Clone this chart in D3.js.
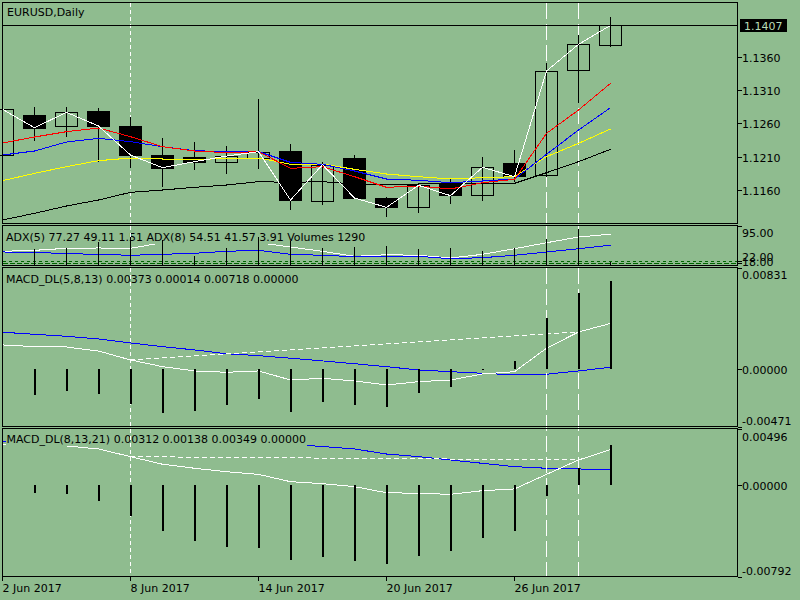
<!DOCTYPE html>
<head>
<meta charset="utf-8">
<style>
    body { margin: 0; background-color: #8fbc8f; }
    svg { display: block; font-family: "DejaVu Sans", sans-serif; font-size: 11px; }
</style>
</head>
<body>
<script src="https://d3js.org/d3.v7.min.js"></script>
<script type="text/javascript">

    // ---- data ----
    const dates = ["2017-06-02", "2017-06-05", "2017-06-06", "2017-06-07", "2017-06-08",
        "2017-06-09", "2017-06-12", "2017-06-13", "2017-06-14", "2017-06-15",
        "2017-06-16", "2017-06-19", "2017-06-20", "2017-06-21", "2017-06-22",
        "2017-06-23", "2017-06-26", "2017-06-27", "2017-06-28", "2017-06-29"];

    const open_px  = [1.12125, 1.12725, 1.1255, 1.12785, 1.1256, 1.12125, 1.1210, 1.12025, 1.1209, 1.12185,
        1.11435, 1.1208, 1.11475, 1.1134, 1.1170, 1.11515, 1.1200, 1.1182, 1.13395, 1.1377];
    const high_px  = [1.1284, 1.12845, 1.12845, 1.12835, 1.1270, 1.12385, 1.1232, 1.1226, 1.12965, 1.1229,
        1.12015, 1.12125, 1.1150, 1.1169, 1.11775, 1.1210, 1.1220, 1.1351, 1.13925, 1.1420];
    const low_px   = [1.1208, 1.1234, 1.1240, 1.12025, 1.11935, 1.1165, 1.1190, 1.1184, 1.11915, 1.1130,
        1.1138, 1.11465, 1.1119, 1.1126, 1.11385, 1.1144, 1.11725, 1.1179, 1.1291, 1.1375];
    const close_px = [1.1281, 1.12535, 1.12765, 1.1256, 1.12125, 1.11935, 1.12025, 1.1211, 1.12175, 1.1145,
        1.1198, 1.1148, 1.1134, 1.1167, 1.11515, 1.1194, 1.1180, 1.13385, 1.13785, 1.1407];

    const ma_red    = [1.12305, 1.12395, 1.12475, 1.1253, 1.1240, 1.1225, 1.12185, 1.1216, 1.12175, 1.11925,
        1.1195, 1.1180, 1.1164, 1.1166, 1.11615, 1.1171, 1.1176, 1.1245, 1.1280, 1.1320];
    const ma_blue   = [1.12125, 1.12185, 1.1232, 1.12375, 1.12325, 1.1225, 1.1219, 1.12175, 1.12175, 1.12015,
        1.11985, 1.11885, 1.11765, 1.11745, 1.1171, 1.11735, 1.11765, 1.12135, 1.1250, 1.12835];
    const ma_yellow = [1.1174, 1.1185, 1.1195, 1.1204, 1.1208, 1.12065, 1.1206, 1.1207, 1.1208, 1.11985,
        1.1199, 1.1191, 1.1184, 1.1180, 1.11765, 1.11785, 1.1180, 1.1210, 1.1230, 1.12515];
    const ma_black  = [1.1115, 1.1125, 1.1136, 1.1145, 1.11565, 1.1160, 1.1164, 1.11675, 1.11725, 1.11715,
        1.11725, 1.1169, 1.11675, 1.1169, 1.1170, 1.1170, 1.1170, 1.1186, 1.12025, 1.1221];

    const adx5 = [42.1, 44.1, 48.2, 48.9, 48.2, 59.7, 61.2, 62.2, 59.7, 50.9,
        42.1, 31.8, 35.1, 33.9, 28.4, 35.9, 47.4, 59.7, 71.4, 77.27];
    const adx8 = [40.7, 40.0, 37.2, 35.9, 33.9, 35.9, 38.0, 42.1, 44.1, 35.9,
        33.9, 31.0, 31.0, 31.8, 26.9, 29.0, 33.9, 40.7, 47.4, 54.51];
    const volumes = [7000, 6070, 6340, 8610, 10510, 9640, 3570, 6340, 10510, 8990,
        6340, 6720, 7100, 6070, 6340, 5200, 6340, 9870, 13660, 1290];
    const adx_levels = [22, 18];

    const macd1_main   = [0.00197, 0.00183, 0.00180, 0.00147, 0.00074, 0.00019, -0.00016, -0.00027, -0.00016, -0.00090,
        -0.00076, -0.00098, -0.00131, -0.00104, -0.00090, -0.00041, -0.00022, 0.00170, 0.00303, 0.00373];
    const macd1_signal = [0.00301, 0.00284, 0.00268, 0.00246, 0.00213, 0.00183, 0.00156, 0.00125, 0.00109, 0.00088,
        0.00066, 0.00043, 0.00019, -0.00008, -0.00022, -0.00035, -0.00049, -0.00043, -0.00016, 0.00014];
    const macd1_hist   = [-0.00208, -0.00216, -0.00183, -0.00204, -0.00286, -0.00359, -0.00346, -0.00297, -0.00242, -0.00351,
        -0.00269, -0.00297, -0.00313, -0.00196, -0.00150, -0.00005, 0.00062, 0.00421, 0.00625, 0.00718];

    const macd2_main   = [0.00361, 0.00352, 0.00344, 0.00318, 0.00251, 0.00185, 0.00150, 0.00120, 0.00097, 0.00033,
        0.00016, -0.00010, -0.00063, -0.00068, -0.00077, -0.00045, -0.00030, 0.00097, 0.00222, 0.00312];
    const macd2_signal = [0.00381, 0.00382, 0.00384, 0.00386, 0.00387, 0.00389, 0.00390, 0.00386, 0.00372, 0.00358,
        0.00339, 0.00318, 0.00274, 0.00251, 0.00222, 0.00193, 0.00164, 0.00150, 0.00144, 0.00138];
    const macd2_hist   = [-0.00040, -0.00064, -0.00070, -0.00131, -0.00267, -0.00398, -0.00485, -0.00537, -0.00548, -0.00650,
        -0.00624, -0.00659, -0.00681, -0.00615, -0.00572, -0.00461, -0.00392, -0.00093, 0.00154, 0.00349];

    // tick labels and markers
    const price_ticks = [1.1160, 1.1210, 1.1260, 1.1310, 1.1360];
    const bid_price = 1.1407;
    const adx_ticks = [95];
    const macd1_ticks = [0.00831, 0, -0.00471];
    const macd2_ticks = [0.00496, 0, -0.00792];
    const date_tick_bars = [0, 4, 8, 12, 16];
    const trend_bars = [4, 18];
    const dotted_vline_bars = [4];
    const dashed_vline_bars = [17, 18];

    const title_text = "EURUSD,Daily";
    const adx_text = "ADX(5) 77.27 49.11 1.51 ADX(8) 54.51 41.57 3.91 Volumes 1290";
    const macd1_text = "MACD_DL(5,8,13) 0.00373 0.00014 0.00718 0.00000";
    const macd2_text = "MACD_DL(8,13,21) 0.00312 0.00138 0.00349 0.00000";

    // ---- layout ----
    let svg_w = 800;
    let svg_h = 600;
    let bg = "#8fbc8f";
    let left_x = 2.5;
    let right_x = 737.5;
    let main_p  = {top: 2.5,   bottom: 223.5};
    let adx_p   = {top: 225.5, bottom: 265.5};
    let macd1_p = {top: 267.5, bottom: 426.5};
    let macd2_p = {top: 428.5, bottom: 576.5};

    let svg = d3.select("body").append("svg")
        .attr("width", svg_w)
        .attr("height", svg_h)
        .attr("shape-rendering", "crispEdges")
        .style("background-color", bg);

    // histograms stay inside the window frame
    svg.append("clipPath").attr("id", "inner")
        .append("rect")
        .attr("x", left_x + 1.5).attr("y", 0)
        .attr("width", right_x - left_x - 1.5).attr("height", svg_h);

    // ---- scales ----
    let x_scale = d3.scalePoint().domain(dates).range([2, 610]);
    let bx = i => x_scale(dates[i]) + 0.5;

    let y_main  = d3.scaleLinear().domain([1.11105, 1.14413]).range([223, 2.5]);
    let y_adx   = d3.scaleLinear().domain([14, 95]).range([265, 225.5]);
    let y_vol   = d3.scaleLinear().domain([0, 15000]).range([265, 225.5]);
    let y_macd1 = d3.scaleLinear().domain([-0.00471, 0.00831]).range([426.5, 267.5]);
    let y_macd2 = d3.scaleLinear().domain([-0.00792, 0.00496]).range([576.5, 428.5]);

    // ---- helpers ----
    function draw_series(values, y_scale, color, dash) {
        svg.append("path")
            .datum(values)
            .attr("fill", "none")
            .attr("stroke", color)
            .attr("stroke-width", 1)
            .attr("stroke-dasharray", dash || null)
            .attr("d", d3.line()
                .x((d, i) => bx(i))
                .y(d => y_scale(d)));
    }

    function draw_trend(values, y_scale) {
        let pts = trend_bars.map(i => [bx(i), y_scale(values[i])]);
        svg.append("path")
            .attr("fill", "none")
            .attr("stroke", "#ffffff")
            .attr("stroke-dasharray", "5,3")
            .attr("d", d3.line()(pts));
    }

    function draw_hist(values, y_scale, base, width) {
        svg.append("g")
            .attr("clip-path", "url(#inner)")
            .selectAll("line")
            .data(values)
            .enter()
            .append("line")
            .attr("x1", (d, i) => bx(i))
            .attr("x2", (d, i) => bx(i))
            .attr("y1", y_scale(base))
            .attr("y2", d => y_scale(d))
            .attr("stroke", "#000")
            .attr("stroke-width", width);
    }

    function draw_panel_label(txt, x, baseline) {
        let g = svg.append("g");
        let rect = g.append("rect").attr("fill", bg);
        let t = g.append("text").attr("x", x).attr("y", baseline).attr("fill", "#000").text(txt);
        let bb = t.node().getBBox();
        rect.attr("x", bb.x - 1).attr("y", baseline - 10).attr("width", bb.width + 2).attr("height", 12.5);
    }

    function draw_vlines(bars, dash, y1, y2) {
        svg.selectAll(null)
            .data(bars)
            .enter()
            .append("line")
            .attr("x1", i => bx(i))
            .attr("x2", i => bx(i))
            .attr("y1", y1)
            .attr("y2", y2)
            .attr("stroke", "#ffffff")
            .attr("stroke-dasharray", dash);
    }

    function draw_right_ticks(ticks, y_scale, fmt, offsets) {
        ticks.forEach((v, k) => {
            let y = Math.round(y_scale(v)) + 0.5;
            svg.append("line")
                .attr("x1", right_x).attr("x2", right_x + 4)
                .attr("y1", y).attr("y2", y)
                .attr("stroke", "#000");
            svg.append("text")
                .attr("x", 742)
                .attr("y", y + offsets[k])
                .attr("fill", "#000")
                .text(fmt(v));
        });
    }

    // ---- main panel ----
    draw_vlines(dotted_vline_bars, "4,3", main_p.top, main_p.bottom);
    draw_vlines(dashed_vline_bars, "16,5", main_p.top, main_p.bottom);

    // candles
    for (let i = 0; i < dates.length; i++) {
        let cx = bx(i);
        let bull = close_px[i] >= open_px[i];
        svg.append("line")
            .attr("x1", cx).attr("x2", cx)
            .attr("y1", y_main(high_px[i]))
            .attr("y2", y_main(low_px[i]))
            .attr("stroke", "#000");
        let top = y_main(Math.max(open_px[i], close_px[i]));
        let bot = y_main(Math.min(open_px[i], close_px[i]));
        svg.append("rect")
            .attr("x", cx - 11)
            .attr("y", Math.round(top) + 0.5)
            .attr("width", 22)
            .attr("height", Math.max(1, Math.round(bot - top)))
            .attr("fill", bull ? "none" : "#000")
            .attr("stroke", "#000");
    }

    draw_series(ma_black, y_main, "#000000");
    draw_series(ma_yellow, y_main, "#ffff00");
    draw_series(ma_blue, y_main, "#0000ff");
    draw_series(ma_red, y_main, "#ff0000");
    draw_series(close_px, y_main, "#ffffff");

    // bid line + label
    let bid_y = Math.round(y_main(bid_price)) + 0.5;
    svg.append("line")
        .attr("x1", left_x).attr("x2", right_x)
        .attr("y1", bid_y).attr("y2", bid_y)
        .attr("stroke", "#000");

    svg.append("text")
        .attr("x", 7).attr("y", 16)
        .attr("fill", "#000")
        .text(title_text);

    draw_right_ticks(price_ticks, y_main, d => d.toFixed(4), price_ticks.map(() => 4));

    svg.append("rect")
        .attr("x", 739.5).attr("y", bid_y - 7)
        .attr("width", 47).attr("height", 13)
        .attr("fill", "#000");
    svg.append("text")
        .attr("x", 744).attr("y", bid_y + 4.5)
        .attr("fill", "#b8dcb8")
        .text(bid_price.toFixed(4));

    // ---- ADX panel ----
    adx_levels.forEach((lv, k) => {
        let y = Math.round(y_adx(lv)) + 0.5;
        svg.append("line")
            .attr("x1", left_x).attr("x2", right_x)
            .attr("y1", y).attr("y2", y)
            .attr("stroke", "#006400")
            .attr("stroke-dasharray", k == 0 ? "3,3" : "5,2");
    });
    draw_series(adx5, y_adx, "#ffffff");
    draw_series(adx8, y_adx, "#0000ff");
    draw_panel_label(adx_text, 6, 241);
    draw_right_ticks(adx_ticks, y_adx, d => d.toFixed(2), [10]);
    draw_right_ticks(adx_levels, y_adx, d => d.toFixed(2), [-1, 2.5]);

    // ---- MACD panels ----
    draw_series(macd1_signal, y_macd1, "#0000ff");
    draw_series(macd1_main, y_macd1, "#ffffff");
    draw_trend(macd1_main, y_macd1);
    draw_panel_label(macd1_text, 6, 283);
    draw_right_ticks(macd1_ticks, y_macd1, d => d.toFixed(5), [10.5, 4, -3]);

    draw_series(macd2_signal, y_macd2, "#0000ff");
    draw_series(macd2_main, y_macd2, "#ffffff");
    draw_trend(macd2_main, y_macd2);
    draw_panel_label(macd2_text, 6.5, 443);
    draw_right_ticks(macd2_ticks, y_macd2, d => d.toFixed(5), [11, 4, -3]);

    // separators through the sub windows, then histograms on top
    draw_vlines(dotted_vline_bars, "4,3", adx_p.top, macd2_p.bottom);
    draw_vlines(dashed_vline_bars, "16,5", adx_p.top, macd2_p.bottom);

    draw_hist(volumes, y_vol, 0, 1);
    draw_hist(macd1_hist, y_macd1, 0, 2);
    draw_hist(macd2_hist, y_macd2, 0, 2);

    // ---- panel frames ----
    [main_p, adx_p, macd1_p, macd2_p].forEach(p => {
        svg.append("rect")
            .attr("x", left_x).attr("y", p.top)
            .attr("width", right_x - left_x)
            .attr("height", p.bottom - p.top)
            .attr("fill", "none")
            .attr("stroke", "#000");
    });

    // ---- date axis ----
    let fmt_date = d3.timeFormat("%-d %b %Y");
    date_tick_bars.forEach(i => {
        svg.append("line")
            .attr("x1", bx(i)).attr("x2", bx(i))
            .attr("y1", macd2_p.bottom).attr("y2", macd2_p.bottom + 4.5)
            .attr("stroke", "#000");
        svg.append("text")
            .attr("x", bx(i))
            .attr("y", 591.5)
            .attr("fill", "#000")
            .text(fmt_date(new Date(dates[i] + "T00:00:00")));
    });

</script>
</body>
